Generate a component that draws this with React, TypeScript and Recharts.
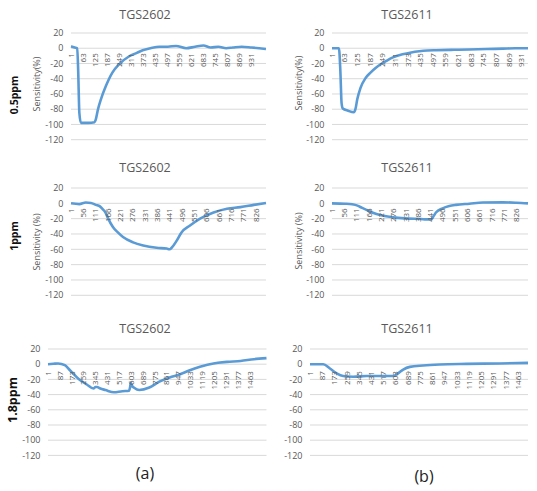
import React from 'react';
import { LineChart, Line, XAxis, YAxis, CartesianGrid } from 'recharts';

const yTicks = [20, 0, -20, -40, -60, -80, -100, -120];
const xTicks05 = [1, 63, 125, 187, 249, 311, 373, 435, 497, 559, 621, 683, 745, 807, 869, 931];
const xTicks1 = [1, 56, 111, 166, 221, 276, 331, 386, 441, 496, 551, 606, 661, 716, 771, 826];
const xTicks18 = [1, 87, 173, 259, 345, 431, 517, 603, 689, 775, 861, 947, 1033, 1119, 1205, 1291, 1377, 1463];

// TGS2602, 0.5ppm
const a05Idx = [1, 20, 33, 38, 44, 52, 90, 122, 128, 140, 155, 180, 214, 249, 301, 340, 370, 410, 456, 500, 542, 594, 640, 683, 720, 760, 800, 835, 880, 930, 970, 1005];
const a05Val = [2.5, 1, 0, -30, -85, -98, -98, -97, -94, -80, -67, -50, -32, -21, -10.5, -6, -2.6, 0, 2, 2, 3, 0, 2, 3.5, 1, 2, 0, 1, 2, 1, 0, -1];
// TGS2611, 0.5ppm
const b05Idx = [1, 35, 42, 48, 54, 80, 108, 116, 125, 141, 166, 190, 215, 240, 265, 300, 347, 390, 429, 470, 512, 600, 676, 760, 840, 900, 963];
const b05Val = [0, 0, -30, -72, -79, -82, -84, -80, -67, -52, -39, -32, -26, -21, -17, -12, -8, -5.5, -4, -3, -2.6, -2, -1.7, -1, -0.5, 0, 0];
// TGS2602, 1ppm
const a1Idx = [1, 38, 67, 90, 112, 130, 142, 155, 164, 188, 210, 233, 278, 323, 383, 428, 441, 450, 472, 494, 532, 577, 637, 697, 757, 817, 871];
const a1Val = [0, -1, 1, 0.5, -2, -4, -7.5, -12, -18, -31, -38, -44, -51, -55, -58, -59, -60, -58, -49, -38, -29, -20, -12, -7, -5, -2, 0.5];
// TGS2611, 1ppm
const b1Idx = [1, 60, 91, 115, 136, 160, 181, 226, 286, 346, 400, 421, 444, 455, 466, 496, 526, 556, 616, 676, 766, 826, 878];
const b1Val = [0, -0.5, -1.3, -3, -6, -9, -12, -16, -18.7, -20, -20.5, -21, -21, -17, -12, -6.5, -3.5, -2, -0.5, 1, 1.3, 0.8, 0];
// TGS2602, 1.8ppm
const a18Idx = [1, 40, 74, 123, 160, 221, 282, 331, 345, 356, 380, 417, 478, 539, 588, 596, 601, 612, 625, 662, 735, 808, 882, 955, 1029, 1102, 1200, 1298, 1396, 1493, 1584];
const a18Val = [0, 0.5, 1, -1.3, -8, -19, -26.7, -32, -30, -30, -32, -34, -37, -35.5, -35, -30, -24.6, -29, -31, -34, -30.7, -23, -17.5, -13.5, -7.9, -3.5, 1, 3, 4.3, 6.6, 8];
// TGS2611, 1.8ppm
const b18Idx = [1, 94, 141, 188, 234, 304, 398, 492, 585, 620, 656, 703, 796, 913, 1100, 1334, 1533];
const b18Val = [0, 0, -5.7, -12, -15.6, -16.5, -15.6, -15.6, -15.6, -12, -7, -3.5, -1.7, -0.4, 0.4, 1, 1.8];

const toRows = (idx: number[], val: number[]) => idx.map((t, i) => ({ t, v: val[i] }));

const GRAY = '#595959';
const YW = 40;
const MT = 9;
const MB = 9;

function XTick(props: any) {
  const { x, payload, zeroY, gap } = props;
  const y = zeroY + gap;
  return (
    <text
      x={x}
      y={y}
      dy="0.35em"
      textAnchor="end"
      transform={`rotate(-90 ${x} ${y})`}
      fontSize={8}
      fill={GRAY}
    >
      {payload.value}
    </text>
  );
}

interface PanelProps {
  title: string;
  left: number;
  right: number;
  top: number;
  bottom: number;
  xMax: number;
  ticks: number[];
  data: { t: number; v: number }[];
  gap: number;
  titleX: number;
  titleY: number;
}

function Panel({ title, left, right, top, bottom, xMax, ticks, data, gap, titleX, titleY }: PanelProps) {
  const plotH = bottom - top;
  const zeroY = MT + plotH * (20 / 140);
  return (
    <>
      <div
        style={{
          position: 'absolute',
          left: titleX,
          top: titleY,
          transform: 'translate(-50%, -50%)',
          fontSize: 12.5,
          color: GRAY,
          whiteSpace: 'nowrap',
        }}
      >
        {title}
      </div>
      <div style={{ position: 'absolute', left: left - YW, top: top - MT }}>
        <LineChart
          width={YW + (right - left) + 2}
          height={MT + plotH + 1 + MB}
          data={data}
          margin={{ top: MT, right: 2, bottom: MB, left: 0 }}
        >
          <CartesianGrid vertical={false} stroke="#d9d9d9" />
          <XAxis
            dataKey="t"
            type="number"
            domain={[1, xMax]}
            ticks={ticks}
            interval={0}
            height={1}
            axisLine={false}
            tickLine={false}
            tick={<XTick zeroY={zeroY} gap={gap} />}
          />
          <YAxis
            width={YW}
            domain={[-120, 20]}
            ticks={yTicks}
            interval={0}
            axisLine={false}
            tickLine={false}
            tickSize={0}
            tickMargin={7.5}
            tick={{ fill: GRAY, fontSize: 9 }}
          />
          <Line
            type="monotone"
            dataKey="v"
            stroke="#5b9bd5"
            strokeWidth={2.6}
            dot={false}
            isAnimationActive={false}
          />
        </LineChart>
      </div>
    </>
  );
}

function VLabel({ text, cx, cy, size, bold, color }: { text: string; cx: number; cy: number; size: number; bold?: boolean; color?: string }) {
  return (
    <div
      style={{
        position: 'absolute',
        left: cx,
        top: cy,
        transform: 'translate(-50%, -50%) rotate(-90deg)',
        fontSize: size,
        fontWeight: bold ? 700 : 400,
        color: color || GRAY,
        whiteSpace: 'nowrap',
        lineHeight: 1,
      }}
    >
      {text}
    </div>
  );
}

export default function App() {
  return (
    <div
      style={{
        position: 'absolute',
        left: 0,
        top: 0,
        width: 537,
        height: 491,
        background: '#fff',
        fontFamily: '"Open Sans", "Noto Sans", sans-serif',
        overflow: 'hidden',
      }}
    >
      <Panel title="TGS2602" left={71} right={266} top={33.3} bottom={140} xMax={1005} ticks={xTicks05} data={toRows(a05Idx, a05Val)} gap={5} titleX={145} titleY={14} />
      <Panel title="TGS2611" left={332} right={528} top={33.3} bottom={140} xMax={963} ticks={xTicks05} data={toRows(b05Idx, b05Val)} gap={5} titleX={407} titleY={14} />
      <Panel title="TGS2602" left={71} right={266} top={187.7} bottom={295} xMax={871} ticks={xTicks1} data={toRows(a1Idx, a1Val)} gap={5} titleX={145} titleY={167} />
      <Panel title="TGS2611" left={332} right={528} top={187.7} bottom={295} xMax={878} ticks={xTicks1} data={toRows(b1Idx, b1Val)} gap={5} titleX={407} titleY={167} />
      <Panel title="TGS2602" left={47.5} right={266} top={349.3} bottom={455.7} xMax={1584} ticks={xTicks18} data={toRows(a18Idx, a18Val)} gap={7} titleX={145} titleY={328} />
      <Panel title="TGS2611" left={310} right={528} top={349.3} bottom={455.7} xMax={1533} ticks={xTicks18} data={toRows(b18Idx, b18Val)} gap={7} titleX={407} titleY={328} />

      <VLabel text="Sensitivity(%)" cx={36} cy={84} size={9} />
      <VLabel text="Sensitivity(%)" cx={298} cy={83} size={9} />
      <VLabel text="Sensitivity (%)" cx={36} cy={242} size={9} />
      <VLabel text="Sensitivity (%)" cx={298} cy={241} size={9} />

      <VLabel text="0.5ppm" cx={13.5} cy={95} size={10.5} bold color="#111" />
      <VLabel text="1ppm" cx={13.5} cy={236} size={10.5} bold color="#111" />
      <VLabel text="1.8ppm" cx={13} cy={400} size={12.5} bold color="#111" />

      <div style={{ position: 'absolute', left: 145, top: 473, transform: 'translate(-50%, -50%)', fontSize: 16, color: '#222' }}>(a)</div>
      <div style={{ position: 'absolute', left: 424, top: 476, transform: 'translate(-50%, -50%)', fontSize: 16, color: '#222' }}>(b)</div>
    </div>
  );
}
